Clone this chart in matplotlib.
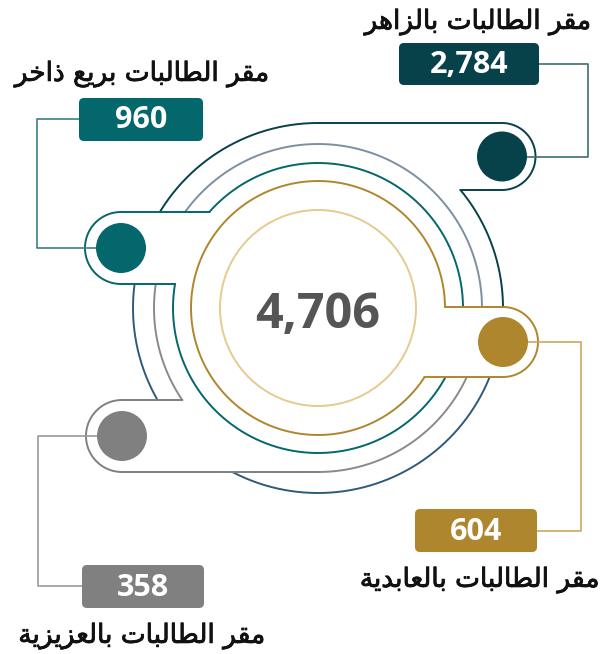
import numpy as np
import matplotlib.pyplot as plt
import matplotlib.patheffects as pe
from matplotlib.patches import Circle, FancyBboxPatch, Polygon

# data
names = [
    "مقر الطالبات بالزاهر",
    "مقر الطالبات بريع ذاخر",
    "مقر الطالبات بالعابدية",
    "مقر الطالبات بالعزيزية",
]
counts = [2784, 960, 604, 358]
colors = ["#07414a", "#03676b", "#ae862d", "#808080"]
total = sum(counts)

# arabic presentation forms (iso, final, initial, medial)
FORMS = {
    "ا": (0xFE8D, 0xFE8E, None, None),
    "ب": (0xFE8F, 0xFE90, 0xFE91, 0xFE92),
    "ة": (0xFE93, 0xFE94, None, None),
    "ت": (0xFE95, 0xFE96, 0xFE97, 0xFE98),
    "خ": (0xFEA5, 0xFEA6, 0xFEA7, 0xFEA8),
    "د": (0xFEA9, 0xFEAA, None, None),
    "ذ": (0xFEAB, 0xFEAC, None, None),
    "ر": (0xFEAD, 0xFEAE, None, None),
    "ز": (0xFEAF, 0xFEB0, None, None),
    "ط": (0xFEC1, 0xFEC2, 0xFEC3, 0xFEC4),
    "ع": (0xFEC9, 0xFECA, 0xFECB, 0xFECC),
    "ق": (0xFED5, 0xFED6, 0xFED7, 0xFED8),
    "ل": (0xFEDD, 0xFEDE, 0xFEDF, 0xFEE0),
    "م": (0xFEE1, 0xFEE2, 0xFEE3, 0xFEE4),
    "ه": (0xFEE9, 0xFEEA, 0xFEEB, 0xFEEC),
    "ي": (0xFEF1, 0xFEF2, 0xFEF3, 0xFEF4),
}


def shape(text):
    out = []
    for i, ch in enumerate(text):
        if ch not in FORMS:
            out.append(ch)
            continue
        prev = text[i - 1] if i > 0 else ""
        nxt = text[i + 1] if i + 1 < len(text) else ""
        iso, fin, ini, med = FORMS[ch]
        join_prev = prev in FORMS and FORMS[prev][2] is not None
        join_next = ini is not None and nxt in FORMS
        if join_prev and join_next:
            f = med
        elif join_prev:
            f = fin
        elif join_next:
            f = ini
        else:
            f = iso
        out.append(chr(f))
    return "".join(reversed(out))


# layout (pixels, y down)
X0, Y0 = 318, 308
R_LIGHT, R_GOLD, R_TEAL, R_GRAY, R_OUT = 98, 127, 145, 164, 185
ring_r = [R_OUT, R_TEAL, R_GOLD, R_GRAY]
pills = [(502, 156.5, 33.5, "right"), (121, 248, 36, "left"),
         (503, 342, 35, "right"), (122, 436, 36, "left")]
boxes = [(399, 43, 140, 42), (79, 98, 124, 43), (415, 509, 122, 43), (82, 565, 122, 43)]
titles = [(478, 22), (142, 74), (480, 580), (142, 636)]
connectors = [
    [(502, 157), (588, 157), (588, 64), (539, 64)],
    [(79, 119), (37, 119), (37, 248), (121, 248)],
    [(537, 531), (581, 531), (581, 342), (503, 342)],
    [(82, 586), (38, 586), (38, 436), (122, 436)],
]
link_colors = ["#3d6e72", "#3a8285", "#c9a860", "#9a9a9a"]

fig = plt.figure(figsize=(6.09, 6.54), dpi=100)
ax = fig.add_axes([0, 0, 1, 1])
ax.set_xlim(0, 609)
ax.set_ylim(654, 0)
ax.set_aspect("equal")
ax.axis("off")


def ring_pt(r, a):
    a = np.radians(a)
    return X0 + r * np.cos(a), Y0 - r * np.sin(a)


def ring_angle(r, y, side):
    s = np.clip((Y0 - y) / r, -1, 1)
    a = np.degrees(np.arcsin(s))
    return a if side == "right" else 180 - a


def draw_ring(r, a0, a1, color_at, lw=1.4, z=2):
    ang = np.linspace(a0, a1, 900)
    cols = [color_at(a % 360) for a in ang]
    start = 0
    for i in range(1, len(ang) + 1):
        if i == len(ang) or cols[i] != cols[start]:
            x, y = ring_pt(r, ang[start:min(i + 1, len(ang))])
            ax.plot(x, y, color=cols[start], lw=lw, zorder=z, solid_capstyle="butt")
            start = i


ring_colors = [
    lambda a: "#07414a" if (a < 160 or a > 350) else "#2f5a7a",
    lambda a: "#03676b",
    lambda a: "#ae862d",
    lambda a: "#7c8fa3" if (a < 155 or a > 350) else "#8a8a8a",
]

# inner circle and total
ax.add_patch(Circle((X0, Y0), R_LIGHT, fill=False, ec="#e6ca8e", lw=1.4, zorder=2))
ax.text(X0, Y0 + 8, f"{total:,}", ha="center", va="center", fontsize=35,
        fontweight="bold", family="Open Sans", color="#555555", zorder=6)

for k in range(4):
    r = ring_r[k]
    cx, cy, h, side = pills[k]
    yt, yb = cy - h, cy + h
    at, ab = ring_angle(r, yt, side), ring_angle(r, yb, side)
    xt, _ = ring_pt(r, at)
    xb, _ = ring_pt(r, ab)
    # ring with gap at its own pill
    if side == "right":
        draw_ring(r, at, ab + 360, ring_colors[k])
    else:
        draw_ring(r, ab, at + 360, ring_colors[k])
    # pill outline
    phi = np.linspace(90, -90, 60) if side == "right" else np.linspace(90, 270, 60)
    px = cx + h * np.cos(np.radians(phi))
    py = cy - h * np.sin(np.radians(phi))
    ox = np.concatenate([[xt, cx], px, [cx, xb]])
    oy = np.concatenate([[yt, yt], py, [yb, yb]])
    gx, gy = ring_pt(r, np.linspace(ab, at, 60))
    ax.add_patch(Polygon(np.column_stack([np.concatenate([ox, gx]), np.concatenate([oy, gy])]),
                         closed=True, fc="white", ec="none", zorder=3 + k * 0.1))
    ax.plot(ox, oy, color=colors[k], lw=1.4, zorder=3.05 + k * 0.1)

# connectors, markers, boxes, labels
thick = [pe.withStroke(linewidth=0.6, foreground="#111111")]
for k in range(4):
    cx, cy, h, side = pills[k]
    pts = np.array(connectors[k])
    ax.plot(pts[:, 0], pts[:, 1], color=link_colors[k], lw=1.2, zorder=4)
    ax.add_patch(Circle((cx, cy), 25, fc=colors[k], ec="none", zorder=5))
    bx, by, bw, bh = boxes[k]
    ax.add_patch(FancyBboxPatch((bx + 5, by + 5), bw - 10, bh - 10,
                                boxstyle="round,pad=5", fc=colors[k], ec="none", zorder=5))
    ax.text(bx + bw / 2, by + bh / 2 + 1, f"{counts[k]:,}", ha="center", va="center",
            fontsize=22, fontweight="bold", family="Open Sans", color="white", zorder=6)
    tx, ty = titles[k]
    ax.text(tx, ty, shape(names[k]), ha="center", va="center", fontsize=19,
            family="DejaVu Sans", color="#111111", zorder=6, path_effects=thick)

fig.savefig("out.png", dpi=100)
